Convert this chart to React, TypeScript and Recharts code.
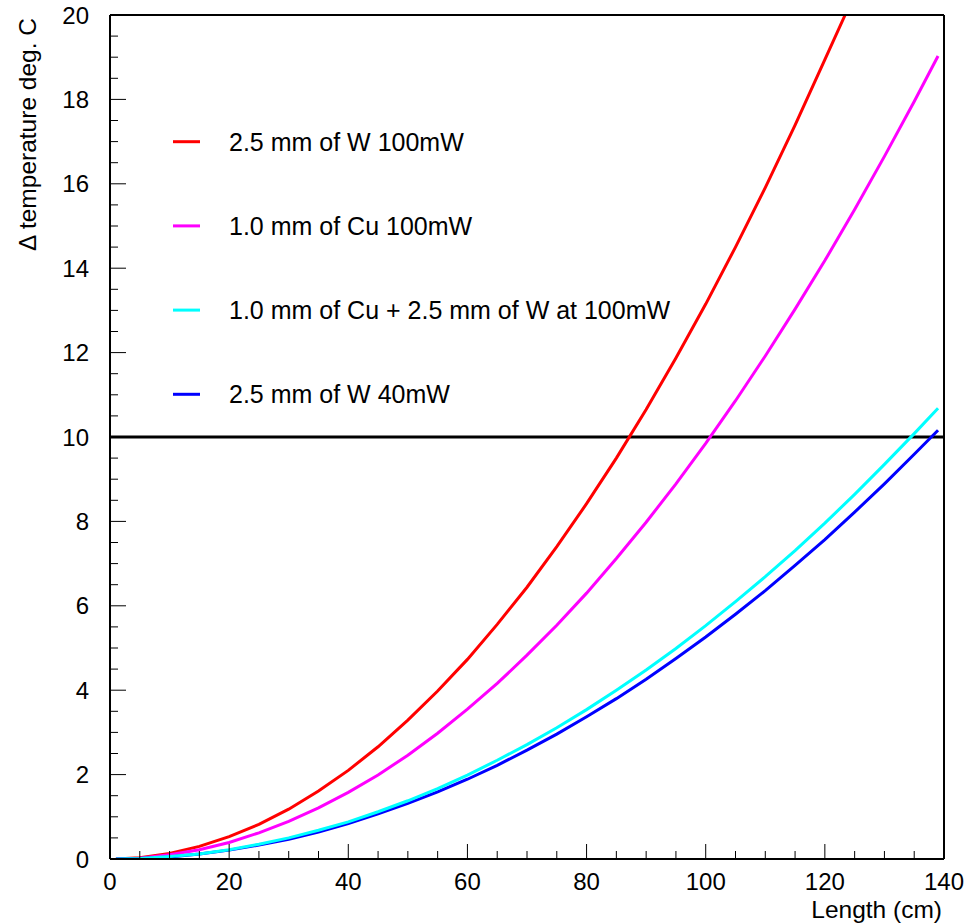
// Temperature rise along the length, four absorber/power options.
// ROOT-style frame: ticks inside on all four sides, legend inside the plot.

import { LineChart, Line, XAxis, YAxis, ReferenceLine, Legend } from 'recharts'

// ── Data ────────────────────────────────────────────────────────────────────
const lengthCm = [1, 5, 10, 15, 20, 25, 30, 35, 40, 45, 50, 55, 60, 65, 70,
  75, 80, 85, 90, 95, 100, 105, 110, 115, 120, 125, 130, 135, 139]

// red leaves the frame at ~123 cm, so it has its own x list
const wHighLength = [1, 5, 10, 15, 20, 25, 30, 35, 40, 45, 50, 55, 60, 65, 70,
  75, 80, 85, 90, 95, 100, 105, 110, 115, 120, 123.4]
const wHighTemp = [0.0, 0.03, 0.13, 0.3, 0.53, 0.82, 1.18, 1.61, 2.1, 2.66,
  3.29, 3.98, 4.73, 5.56, 6.44, 7.4, 8.42, 9.5, 10.65, 11.87, 13.15, 14.5,
  15.91, 17.39, 18.94, 20.0]
const cuHighTemp = [0.0, 0.02, 0.1, 0.22, 0.39, 0.62, 0.89, 1.21, 1.58, 1.99,
  2.46, 2.98, 3.55, 4.16, 4.83, 5.54, 6.3, 7.12, 7.98, 8.89, 9.85, 10.86,
  11.92, 13.03, 14.18, 15.39, 16.65, 17.95, 19.03]
const cuWHighTemp = [0.0, 0.01, 0.06, 0.12, 0.22, 0.35, 0.5, 0.68, 0.88, 1.12,
  1.38, 1.67, 1.99, 2.34, 2.71, 3.11, 3.54, 4.0, 4.48, 4.99, 5.53, 6.1, 6.69,
  7.31, 7.96, 8.64, 9.35, 10.08, 10.68]
const wLowTemp = [0.0, 0.01, 0.05, 0.12, 0.21, 0.33, 0.47, 0.64, 0.84, 1.07,
  1.32, 1.59, 1.89, 2.22, 2.58, 2.96, 3.37, 3.8, 4.26, 4.75, 5.26, 5.8, 6.36,
  6.96, 7.57, 8.22, 8.89, 9.59, 10.16]

const seriesNames = [
  '2.5 mm of W 100mW',
  '1.0 mm of Cu 100mW',
  '1.0 mm of Cu + 2.5 mm of W at 100mW',
  '2.5 mm of W 40mW',
]
const seriesColors = ['#ff0000', '#ff00ff', '#00ffff', '#0000ff']

const xMajorTicks = [0, 20, 40, 60, 80, 100, 120, 140]
const yMajorTicks = [0, 2, 4, 6, 8, 10, 12, 14, 16, 18, 20]
const limitTemp = 10

// minor tick positions: every 5 cm and every 0.5 deg
const xTicks = Array.from({ length: 29 }, (_, i) => i * 5)
const yTicks = Array.from({ length: 41 }, (_, i) => i * 0.5)

const toPoints = (xs: number[], ys: number[]) => xs.map((x, i) => ({ x, y: ys[i] }))

const FONT = '"Liberation Sans", Arial, Helvetica, sans-serif'

// ── Tick renderers (inward ticks) ───────────────────────────────────────────
function BottomTick({ x, y, payload }: any) {
  const major = xMajorTicks.includes(payload.value)
  return (
    <g>
      <line x1={x} x2={x} y1={y} y2={y - (major ? 15 : 8)} stroke="#000" strokeWidth={1} />
      {major && (
        <text x={x} y={y + 31} textAnchor="middle" fontSize={24} fontFamily={FONT} fill="#000">
          {payload.value}
        </text>
      )}
    </g>
  )
}

function TopTick({ x, y, payload }: any) {
  const major = xMajorTicks.includes(payload.value)
  return <line x1={x} x2={x} y1={y} y2={y + (major ? 15 : 8)} stroke="#000" strokeWidth={1} />
}

function LeftTick({ x, y, payload }: any) {
  const major = yMajorTicks.includes(payload.value)
  return (
    <g>
      <line x1={x} x2={x + (major ? 16 : 8)} y1={y} y2={y} stroke="#000" strokeWidth={1} />
      {major && (
        <text x={x - 21} y={y + 8.5} textAnchor="end" fontSize={24} fontFamily={FONT} fill="#000">
          {payload.value}
        </text>
      )}
    </g>
  )
}

function RightTick({ x, y, payload }: any) {
  const major = yMajorTicks.includes(payload.value)
  return <line x1={x} x2={x - (major ? 16 : 8)} y1={y} y2={y} stroke="#000" strokeWidth={1} />
}

// ── Legend (drawn from our own arrays so the order stays fixed) ─────────────
function LegendBox() {
  return (
    <svg width={600} height={320} style={{ display: 'block' }}>
      {seriesNames.map((name, i) => {
        const cy = 41.7 + i * 84.2
        return (
          <g key={name}>
            <line x1={13} x2={40} y1={cy} y2={cy} stroke={seriesColors[i]} strokeWidth={3} />
            <text x={69} y={cy + 9} fontSize={25} fontFamily={FONT} fill="#000">{name}</text>
          </g>
        )
      })}
    </svg>
  )
}

const axisLine = { stroke: '#000', strokeWidth: 2 }

export default function App() {
  return (
    <div style={{ position: 'absolute', left: 0, top: 0, width: 980, height: 924, background: '#fff' }}>
      {/* axes have a 1px box (a 0px axis is not drawn), margins take that into account */}
      <LineChart
        width={980}
        height={924}
        margin={{ top: 14, right: 35, bottom: 64, left: 109 }}
      >
        <XAxis
          xAxisId="bottom"
          type="number"
          dataKey="x"
          domain={[0, 140]}
          ticks={xTicks}
          interval={0}
          height={1}
          tickSize={0}
          tickMargin={0}
          tickLine={false}
          axisLine={axisLine}
          tick={<BottomTick />}
          allowDataOverflow
        />
        <XAxis
          xAxisId="top"
          orientation="top"
          type="number"
          dataKey="x"
          domain={[0, 140]}
          ticks={xTicks}
          interval={0}
          height={1}
          tickSize={0}
          tickMargin={0}
          tickLine={false}
          axisLine={axisLine}
          tick={<TopTick />}
        />
        <YAxis
          yAxisId="left"
          type="number"
          domain={[0, 20]}
          ticks={yTicks}
          interval={0}
          width={1}
          tickSize={0}
          tickMargin={0}
          tickLine={false}
          axisLine={axisLine}
          tick={<LeftTick />}
          allowDataOverflow
        />
        <YAxis
          yAxisId="right"
          orientation="right"
          type="number"
          domain={[0, 20]}
          ticks={yTicks}
          interval={0}
          width={1}
          tickSize={0}
          tickMargin={0}
          tickLine={false}
          axisLine={axisLine}
          tick={<RightTick />}
        />

        <Legend
          layout="vertical"
          align="center"
          verticalAlign="middle"
          wrapperStyle={{ left: 160, top: 100, width: 600, height: 320 }}
          content={() => <LegendBox />}
        />

        {/* 10 degree limit */}
        <ReferenceLine xAxisId="bottom" yAxisId="left" y={limitTemp} stroke="#000" strokeWidth={3} />

        <Line xAxisId="bottom" yAxisId="left" data={toPoints(wHighLength, wHighTemp)} dataKey="y"
          name={seriesNames[0]} stroke={seriesColors[0]} strokeWidth={3} dot={false}
          type="linear" isAnimationActive={false} />
        <Line xAxisId="bottom" yAxisId="left" data={toPoints(lengthCm, cuHighTemp)} dataKey="y"
          name={seriesNames[1]} stroke={seriesColors[1]} strokeWidth={3} dot={false}
          type="linear" isAnimationActive={false} />
        <Line xAxisId="bottom" yAxisId="left" data={toPoints(lengthCm, wLowTemp)} dataKey="y"
          name={seriesNames[3]} stroke={seriesColors[3]} strokeWidth={3} dot={false}
          type="linear" isAnimationActive={false} />
        <Line xAxisId="bottom" yAxisId="left" data={toPoints(lengthCm, cuWHighTemp)} dataKey="y"
          name={seriesNames[2]} stroke={seriesColors[2]} strokeWidth={3} dot={false}
          type="linear" isAnimationActive={false} />
      </LineChart>

      {/* axis titles */}
      <svg width={980} height={924} style={{ position: 'absolute', left: 0, top: 0, pointerEvents: 'none' }}>
        <text x={942} y={918} textAnchor="end" fontSize={24.5} fontFamily={FONT} fill="#000">
          Length (cm)
        </text>
        <text
          x={35.5}
          y={18}
          transform="rotate(-90 35.5 18)"
          textAnchor="end"
          fontSize={24.5}
          fontFamily={FONT}
          fill="#000"
        >
          Δ temperature deg. C
        </text>
      </svg>
    </div>
  )
}
